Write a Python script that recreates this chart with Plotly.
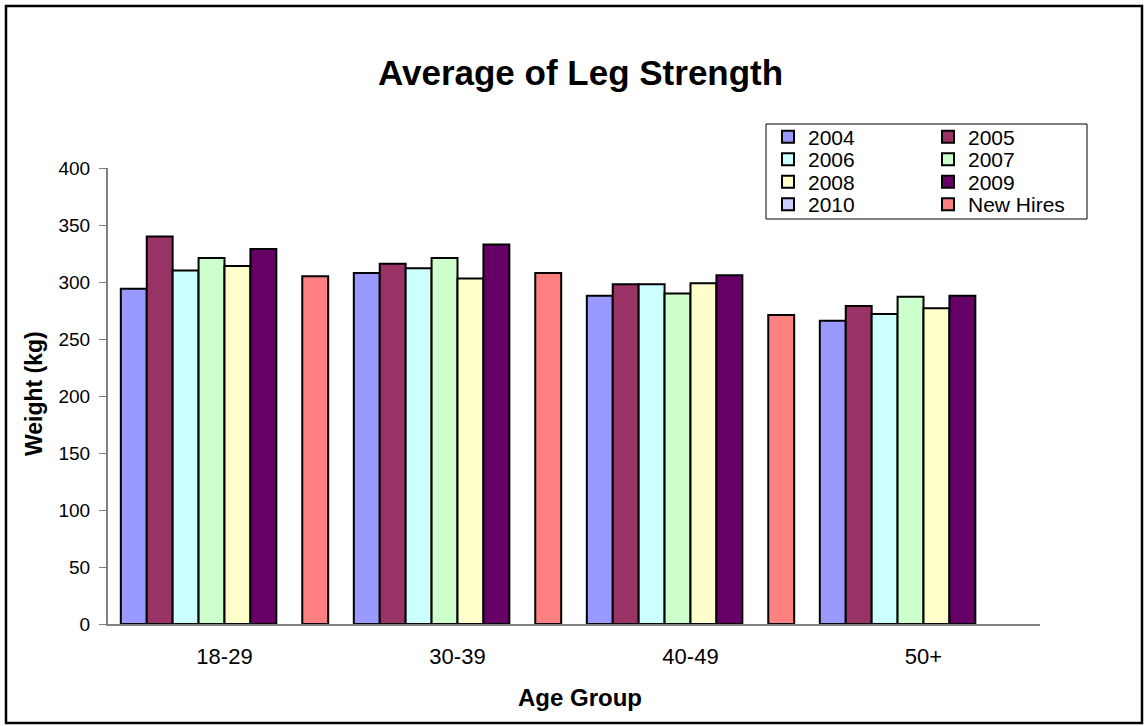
import plotly.graph_objects as go

categories = ["18-29", "30-39", "40-49", "50+"]
series_names = ["2004", "2005", "2006", "2007", "2008", "2009", "2010", "New Hires"]
v2004 = [294, 308, 288, 266]
v2005 = [340, 316, 298, 279]
v2006 = [310, 312, 298, 272]
v2007 = [321, 321, 290, 287]
v2008 = [314, 303, 299, 277]
v2009 = [329, 333, 306, 288]
v2010 = [None, None, None, None]
vnew = [305, 308, 271, None]
values = [v2004, v2005, v2006, v2007, v2008, v2009, v2010, vnew]
colors = ["#9999FF", "#993366", "#CCFFFF", "#CCFFCC", "#FFFFCC", "#660066", "#CCCCFF", "#FF8080"]

W, H = 1145, 726
L, R, T, B = 108, 1040, 168, 624  # plot area in px

def px_x(p):
    return (p - L) / (R - L)

def px_y(p):
    return (B - p) / (B - T)

FONT = "Liberation Sans, Arial, sans-serif"

# legend grid: two columns, four rows (one legend per entry)
col_left = [768, 928]
row_center = [137, 159.5, 182, 204.5]

fig = go.Figure()
legend_layout = {}
for i, (name, vals, col) in enumerate(zip(series_names, values, colors)):
    lg = "legend" if i == 0 else f"legend{i + 1}"
    fig.add_trace(go.Bar(
        name=name, x=categories, y=vals,
        marker=dict(color=col, line=dict(color="black", width=2)),
        legend=lg,
    ))
    legend_layout[lg] = dict(
        x=px_x(col_left[i % 2]), y=px_y(row_center[i // 2]),
        xanchor="left", yanchor="middle",
        bgcolor="rgba(0,0,0,0)", font=dict(size=21),
        itemclick=False, itemdoubleclick=False,
    )

fig.update_layout(
    width=W, height=H,
    margin=dict(l=L, r=W - R, t=T, b=H - B, pad=0),
    paper_bgcolor="white", plot_bgcolor="white",
    barmode="group", bargap=0.11, bargroupgap=0,
    font=dict(family=FONT, size=19, color="black"),
    showlegend=True,
    xaxis=dict(showline=True, linecolor="#808080", linewidth=2, ticks="",
               tickfont=dict(size=22), ticklabelstandoff=12, showgrid=False,
               zeroline=False),
    yaxis=dict(range=[0, 400], dtick=50, showline=True, linecolor="#808080",
               linewidth=2, ticks="outside", ticklen=7, tickcolor="#808080",
               tickwidth=1, tickfont=dict(size=19), ticklabelstandoff=5,
               showgrid=False, zeroline=False),
    shapes=[
        dict(type="rect", xref="paper", yref="paper",
             x0=px_x(6), x1=px_x(1142), y0=px_y(723), y1=px_y(6),
             line=dict(color="black", width=2.5), layer="below"),
        dict(type="rect", xref="paper", yref="paper",
             x0=px_x(766), x1=px_x(1087), y0=px_y(219), y1=px_y(124),
             line=dict(color="black", width=1), layer="above"),
    ],
    annotations=[
        dict(text="<b>Average of Leg Strength</b>", xref="paper", yref="paper",
             x=px_x(580), y=px_y(72), showarrow=False,
             font=dict(size=35), xanchor="center", yanchor="middle"),
        dict(text="<b>Age Group</b>", xref="paper", yref="paper",
             x=px_x(580), y=px_y(697), showarrow=False,
             font=dict(size=24), xanchor="center", yanchor="middle"),
        dict(text="<b>Weight (kg)</b>", xref="paper", yref="paper",
             x=px_x(34), y=px_y(394), showarrow=False, textangle=-90,
             font=dict(size=23), xanchor="center", yanchor="middle"),
    ],
)
fig.update_layout(**legend_layout)

fig.write_html("out.html", config={"displayModeBar": False},
               post_script="document.body.style.margin='0';")
